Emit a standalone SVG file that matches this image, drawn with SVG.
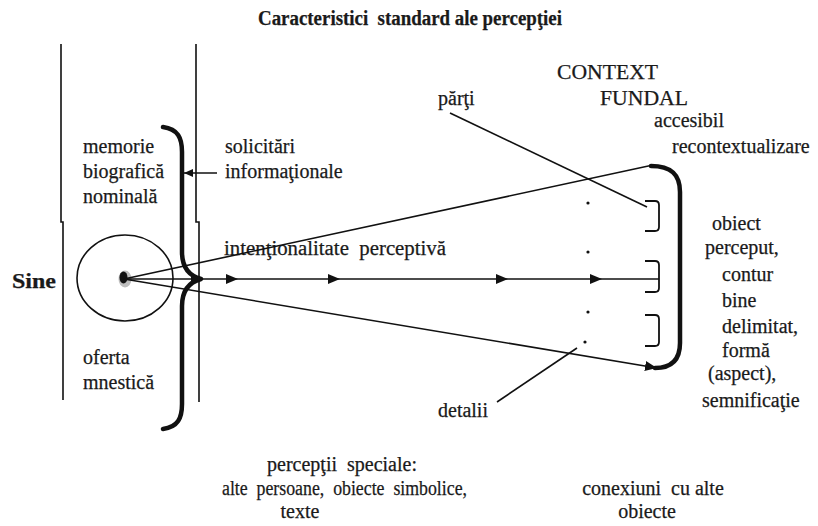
<svg xmlns="http://www.w3.org/2000/svg" width="818" height="526" viewBox="0 0 818 526" font-family="'Liberation Serif','Times New Roman',serif">
<style>
text{font-family:"Liberation Serif","Times New Roman",serif;font-size:20px;fill:#1a1a1a;stroke:#1a1a1a;stroke-width:0.25;white-space:pre}
.b{font-weight:bold}
.ln{fill:none;stroke:#111;stroke-width:1.6}
.thick{fill:none;stroke:#111;stroke-width:4.5;stroke-linecap:round;stroke-linejoin:round}
.br{fill:none;stroke:#111;stroke-width:1.8}
</style>
<defs>
<marker id="ah" markerUnits="userSpaceOnUse" markerWidth="13" markerHeight="11" refX="12" refY="5" orient="auto">
<path d="M0,0 L12,5 L0,10 Z" fill="#111"/>
</marker>
<marker id="ahs" markerUnits="userSpaceOnUse" markerWidth="10" markerHeight="9" refX="9" refY="4" orient="auto">
<path d="M0,0 L9,4 L0,8 Z" fill="#111"/>
</marker>
</defs>
<rect width="818" height="526" fill="#fff"/>

<g id="title"><text class="b" x="410" y="25" text-anchor="middle" font-size="19" textLength="304" lengthAdjust="spacingAndGlyphs">Caracteristici  standard ale percepţiei</text></g>

<g id="memory-column">
<path class="ln" d="M61,44 V222 H63 V400"/>
<path class="ln" d="M196,44 V222 H199 V402"/>
</g>

<g id="sine"><text class="b" x="12" y="288" font-size="24" textLength="44" lengthAdjust="spacingAndGlyphs">Sine</text></g>

<g id="self">
<ellipse cx="125" cy="278" rx="48" ry="43" class="ln" stroke-width="1.3"/>
<ellipse cx="125" cy="279" rx="6.5" ry="8.5" fill="#bdbdbd"/>
<ellipse cx="123.5" cy="277.5" rx="4" ry="6" fill="#111"/>
</g>

<g id="memory-texts">
<text x="83" y="153">memorie</text>
<text x="83" y="178">biografică</text>
<text x="83" y="203">nominală</text>
<text x="83" y="364">oferta</text>
<text x="83" y="389">mnestică</text>
</g>

<g id="left-brace"><path class="thick" d="M163,127 C178,129 182,138 182,152 V252 C182,268 190,276 201,279 C190,282 182,290 182,306 V404 C182,418 178,427 163,429"/></g>

<g id="solicitari">
<text x="225" y="153">solicitări</text>
<text x="225" y="178">informaţionale</text>
</g>

<g id="intentionalitate"><text x="224" y="255" textLength="222" lengthAdjust="spacingAndGlyphs">intenţionalitate  perceptivă</text></g>

<g id="context">
<text x="557" y="79" font-size="21.5" textLength="101" lengthAdjust="spacingAndGlyphs">CONTEXT</text>
<text x="600" y="105" font-size="21.5" textLength="88" lengthAdjust="spacingAndGlyphs">FUNDAL</text>
<text x="654" y="127">accesibil</text>
<text x="672" y="153">recontextualizare</text>
</g>

<g id="parti"><text x="438" y="105">părţi</text></g>
<g id="detalii"><text x="438" y="417">detalii</text></g>

<g id="object">
<path class="thick" d="M651,166 C671,166 680,174 680,192 V343 C680,360 671,368 655,368"/>
<path class="br" d="M645,201 H655 Q659,201 659,205 V227 Q659,231 655,231 H645"/>
<path class="br" d="M645,261 H655 Q659,261 659,265 V288 Q659,292 655,292 H645"/>
<path class="br" d="M645,315 H655 Q659,315 659,319 V342 Q659,346 655,346 H645"/>
<circle cx="588" cy="203" r="1.6" fill="#111"/>
<circle cx="588" cy="252" r="1.6" fill="#111"/>
<circle cx="588" cy="312" r="1.6" fill="#111"/>
<circle cx="585" cy="342" r="1.6" fill="#111"/>
</g>

<g id="object-texts">
<text x="712" y="230">obiect</text>
<text x="705" y="254">perceput,</text>
<text x="722" y="281">contur</text>
<text x="722" y="307">bine</text>
<text x="722" y="333">delimitat,</text>
<text x="722" y="357">formă</text>
<text x="708" y="380">(aspect),</text>
<text x="702" y="407">semnificaţie</text>
</g>

<g id="special">
<text x="342" y="471" text-anchor="middle">percepţii  speciale:</text>
<text x="344.5" y="495" text-anchor="middle" textLength="245" lengthAdjust="spacingAndGlyphs">alte  persoane,  obiecte  simbolice,</text>
<text x="300" y="518" text-anchor="middle">texte</text>
</g>
<g id="conexiuni">
<text x="653" y="495" text-anchor="middle">conexiuni  cu alte</text>
<text x="647" y="518" text-anchor="middle">obiecte</text>
</g>

<g id="connectors">
<line class="ln" x1="217" y1="173" x2="184" y2="173" marker-end="url(#ahs)"/>
<path class="ln" d="M124,279 L203,279 L238,279 L340,279 L508,279 L602,279 L659,279" marker-mid="url(#ah)"/>
<line class="ln" x1="124" y1="279" x2="653" y2="165"/>
<line class="ln" x1="124" y1="279" x2="657" y2="368" marker-end="url(#ah)"/>
<line class="ln" x1="450" y1="113" x2="647" y2="207"/>
<line class="ln" x1="497" y1="402" x2="577" y2="348"/>
</g>
</svg>
